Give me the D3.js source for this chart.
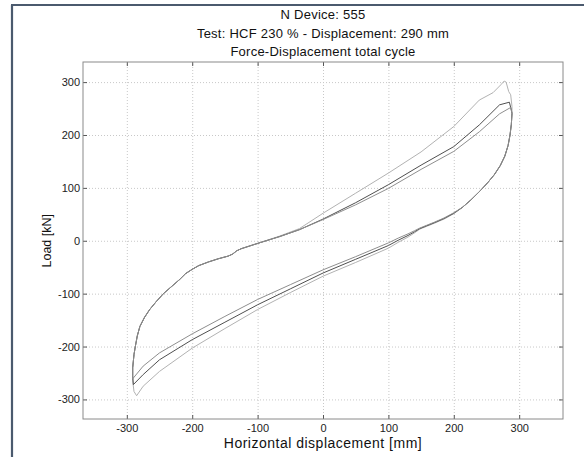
<!DOCTYPE html>
<html>
<head>
<meta charset="utf-8">
<script src="https://cdn.jsdelivr.net/npm/d3@7"></script>
<style>
body { margin: 0; background: #fff; }
svg { display: block; font-family: "Liberation Sans", Arial, sans-serif; }
.grid line { stroke: #c8c8c8; stroke-dasharray: 1,2; }
.grid path { display: none; }
.axis text { font-size: 11px; fill: #222; }
.axis line { stroke: #555; }
.axis path { display: none; }
</style>
</head>
<body>
<script>
// data: displacement [mm] and load [kN], one closed loop per cycle
var xTicks = [-300, -200, -100, 0, 100, 200, 300];
var yTicks = [-300, -200, -100, 0, 100, 200, 300];
var titleLines = ["N Device: 555", "Test: HCF 230 % - Displacement: 290 mm", "Force-Displacement total cycle"];
var cycleNames = ["cycle 1", "cycle 2", "cycle 3"];
var cycleColors = ["#b2b2b2", "#4f4f4f", "#8e8e8e"];

var cycle1Disp = [-285, -289, -291, -291, -289, -287, -284, -280, -273, -265, -255, -244, -232, -219, -210, -200, -190, -175, -160, -145, -138, -132, -125, -110, -100, -66, -36, 0, 50, 100, 150, 200, 239, 260, 272, 277, 280, 284, 287, 289, 289, 288, 286, 283, 278, 271, 262, 252, 240, 226, 213, 200, 185, 170, 158, 148, 140, 130, 115, 100, 50, 0, -50, -100, -150, -200, -250, -275, -285];
var cycle1Load = [-293, -285, -265, -240, -215, -200, -180, -162, -145, -130, -115, -100, -87, -73, -62, -54, -47, -40, -34, -29, -25, -19, -15, -9, -5, 9, 23, 52, 90, 128, 168, 216, 266, 280, 295, 302, 300, 282, 276, 254, 241, 220, 200, 180, 160, 142, 125, 110, 94, 77, 63, 51, 41, 33, 27, 22, 15, 7, -3, -14, -41, -67, -98, -130, -166, -203, -247, -275, -293];

var cycle2Disp = [-290, -291, -291, -289, -287, -284, -280, -273, -265, -255, -244, -232, -219, -210, -200, -190, -175, -160, -145, -138, -132, -125, -110, -100, -66, -36, 0, 50, 100, 150, 200, 239, 270, 285, 288, 289, 288, 286, 283, 278, 271, 262, 252, 240, 226, 213, 200, 185, 170, 158, 148, 140, 130, 115, 100, 50, 0, -50, -100, -150, -200, -250, -275, -290];
var cycle2Load = [-272, -255, -240, -215, -200, -180, -162, -145, -130, -115, -100, -87, -73, -62, -54, -47, -40, -34, -29, -25, -19, -15, -9, -5, 8, 21, 41, 72, 106, 143, 178, 219, 257, 262, 247, 241, 220, 200, 180, 160, 142, 125, 110, 94, 77, 63, 52, 42, 34, 28, 23, 17, 10, 1, -9, -35, -61, -91, -121, -154, -187, -225, -253, -272];

var cycle3Disp = [-291, -291, -289, -287, -284, -280, -273, -265, -255, -244, -232, -219, -210, -200, -190, -175, -160, -145, -138, -132, -125, -110, -100, -66, -36, 0, 50, 100, 150, 200, 239, 270, 287, 289, 288, 286, 283, 278, 271, 262, 252, 240, 226, 213, 200, 185, 170, 158, 148, 140, 130, 115, 100, 50, 0, -50, -100, -150, -200, -250, -275, -291];
var cycle3Load = [-261, -240, -215, -200, -180, -162, -145, -130, -115, -100, -87, -73, -62, -54, -47, -40, -34, -29, -25, -19, -15, -9, -5, 8, 21, 40, 68, 99, 135, 169, 206, 240, 252, 241, 220, 200, 180, 160, 142, 125, 110, 94, 77, 63, 53, 43, 35, 29, 24, 19, 13, 5, -4, -30, -55, -83, -111, -143, -176, -212, -237, -261];

var cycles = [
    d3.zip(cycle1Disp, cycle1Load),
    d3.zip(cycle2Disp, cycle2Load),
    d3.zip(cycle3Disp, cycle3Load)
];

var width = 584, height = 457;
var boxLeft = 83, boxRight = 563, boxTop = 62, boxBottom = 419;

let svg = d3.select("body").append("svg")
    .attr("width", width)
    .attr("height", height);

// outer window frame (left and top edges only are in view)
svg.append("line").attr("x1", 12).attr("y1", 5).attr("x2", 12).attr("y2", height)
    .attr("stroke", "#4b5a6e").attr("stroke-width", 2.2);
svg.append("line").attr("x1", 11).attr("y1", 5).attr("x2", width).attr("y2", 5)
    .attr("stroke", "#4b5a6e").attr("stroke-width", 2.2);

var x = d3.scaleLinear().domain([-367, 367]).range([boxLeft, boxRight]);
var y = d3.scaleLinear().domain([-337, 338]).range([boxBottom, boxTop]);

// plain hyphen minus like the original
var plainFormat = function(d) { return String(d); };

// dotted grid
svg.append("g").attr("class", "grid")
    .attr("transform", "translate(0," + boxBottom + ")")
    .call(d3.axisBottom(x).tickValues(xTicks).tickSize(-(boxBottom - boxTop)).tickFormat(""));
svg.append("g").attr("class", "grid")
    .attr("transform", "translate(" + boxLeft + ",0)")
    .call(d3.axisLeft(y).tickValues(yTicks).tickSize(-(boxRight - boxLeft)).tickFormat(""));

// inward ticks on all four sides
svg.append("g").attr("class", "axis")
    .attr("transform", "translate(0," + boxBottom + ")")
    .call(d3.axisBottom(x).tickValues(xTicks).tickSize(-4).tickPadding(5).tickFormat(plainFormat));
svg.append("g").attr("class", "axis")
    .attr("transform", "translate(0," + boxTop + ")")
    .call(d3.axisTop(x).tickValues(xTicks).tickSize(-4).tickFormat(""));
svg.append("g").attr("class", "axis")
    .attr("transform", "translate(" + boxLeft + ",0)")
    .call(d3.axisLeft(y).tickValues(yTicks).tickSize(-4).tickPadding(3).tickFormat(plainFormat));
svg.append("g").attr("class", "axis")
    .attr("transform", "translate(" + boxRight + ",0)")
    .call(d3.axisRight(y).tickValues(yTicks).tickSize(-4).tickFormat(""));

// the loops
var line = d3.line()
    .x(function(d) { return x(d[0]); })
    .y(function(d) { return y(d[1]); });

svg.selectAll(".cycle")
    .data(cycles)
    .enter().append("path")
    .attr("class", "cycle")
    .attr("d", line)
    .attr("fill", "none")
    .attr("stroke", function(d, i) { return cycleColors[i]; })
    .attr("stroke-width", 1)
    .attr("stroke-linejoin", "round")
    .append("title").text(function(d, i) { return cycleNames[i]; });

// plot box
svg.append("rect")
    .attr("x", boxLeft).attr("y", boxTop)
    .attr("width", boxRight - boxLeft).attr("height", boxBottom - boxTop)
    .attr("fill", "none").attr("stroke", "#8a8a8a").attr("stroke-width", 1);

// titles and axis labels
svg.selectAll(".title")
    .data(titleLines)
    .enter().append("text")
    .attr("class", "title")
    .text(function(d) { return d; })
    .attr("x", (boxLeft + boxRight) / 2)
    .attr("y", function(d, i) { return 19 + i * 18.5; })
    .attr("text-anchor", "middle")
    .attr("font-size", "13px")
    .attr("letter-spacing", "0.25px")
    .attr("fill", "#111");

svg.append("text")
    .text("Horizontal displacement [mm]")
    .attr("x", (boxLeft + boxRight) / 2)
    .attr("y", 448)
    .attr("text-anchor", "middle")
    .attr("font-size", "14px")
    .attr("letter-spacing", "0.5px")
    .attr("fill", "#111");

svg.append("text")
    .text("Load [kN]")
    .attr("transform", "translate(51," + y(0) + ") rotate(-90)")
    .attr("text-anchor", "middle")
    .attr("font-size", "12.5px")
    .attr("fill", "#111");
</script>
</body>
</html>
